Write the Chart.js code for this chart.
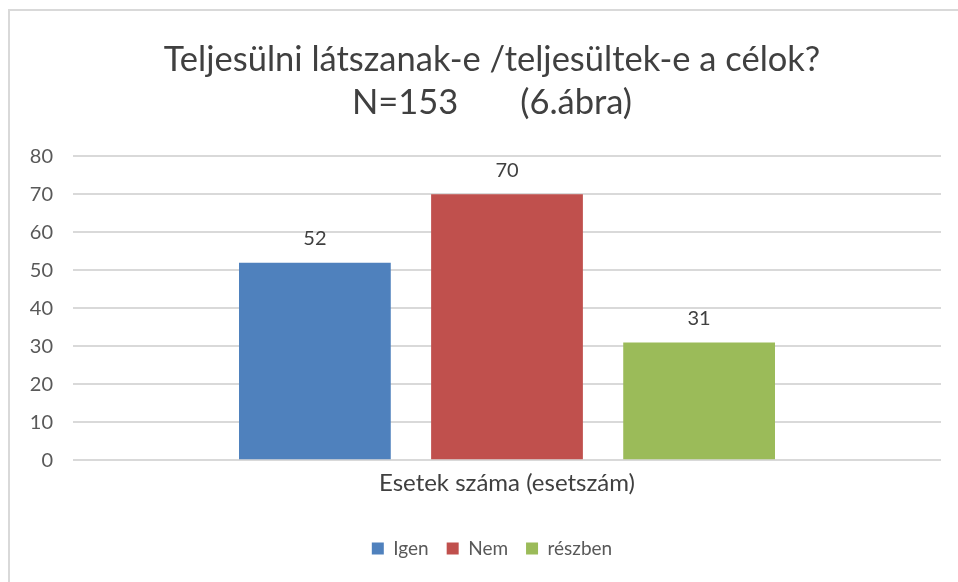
<!DOCTYPE html>
<html>
<head>
<meta charset="utf-8">
<script src="https://cdn.jsdelivr.net/npm/chart.js@4"></script>
<style>
  html, body { margin: 0; padding: 0; background: #fff; overflow: hidden; }
  #wrap { position: relative; width: 958px; height: 582px; overflow: hidden; }
  #frame { position: absolute; left: 8px; top: 9px; right: 0; bottom: 0; border-left: 2px solid #d9d9d9; border-top: 2px solid #d9d9d9; }
  canvas { position: absolute; left: 0; top: 0; }
</style>
</head>
<body>
<div id="wrap">
  <div id="frame"></div>
  <canvas id="chart" width="970" height="582"></canvas>
</div>
<script>
const categories = ['Esetek száma (esetszám)'];
const seriesNames = ['Igen', 'Nem', 'részben'];
const seriesValues = [[52], [70], [31]];
const seriesColors = ['#4F81BD', '#C0504D', '#9BBB59'];
const titleLines = ['Teljesülni látszanak-e /teljesültek-e a célok?', 'N=153       (6.ábra)'];

const FONT = 'Lato, "Open Sans", sans-serif';

// value labels above each bar
const valueLabels = {
    id: 'valueLabels',
    afterDatasetsDraw(chart) {
        const ctx = chart.ctx;
        ctx.save();
        ctx.font = '20px ' + FONT;
        ctx.fillStyle = '#404040';
        ctx.textAlign = 'center';
        ctx.textBaseline = 'middle';
        chart.data.datasets.forEach((ds, i) => {
            chart.getDatasetMeta(i).data.forEach((bar, j) => {
                ctx.fillText(ds.data[j], bar.x, bar.y - 24);
            });
        });
        ctx.restore();
    }
};

new Chart(document.getElementById('chart'), {
    type: 'bar',
    data: {
        labels: categories,
        datasets: seriesNames.map((name, i) => ({
            label: name,
            data: seriesValues[i],
            backgroundColor: seriesColors[i],
            borderWidth: 0,
            categoryPercentage: 0.664,
            barPercentage: 0.79
        }))
    },
    options: {
        responsive: false,
        animation: false,
        layout: { padding: { left: 20, right: 6, top: 10, bottom: 14 } },
        plugins: {
            title: {
                display: true,
                text: titleLines,
                color: '#404040',
                font: { family: FONT, size: 34.5, weight: 'normal', lineHeight: 1.25 },
                padding: { top: 28, bottom: 32 }
            },
            legend: {
                position: 'bottom',
                labels: {
                    boxWidth: 12,
                    boxHeight: 12,
                    padding: 18,
                    color: '#595959',
                    font: { family: FONT, size: 19 }
                }
            },
            tooltip: { enabled: false }
        },
        scales: {
            x: {
                grid: { display: false, drawTicks: false },
                border: { display: false },
                ticks: { color: '#404040', font: { family: FONT, size: 24 }, padding: 9 },
                afterFit: s => { s.height += 14; }
            },
            y: {
                min: 0,
                max: 80,
                ticks: { stepSize: 10, color: '#595959', font: { family: FONT, size: 20 }, padding: 20 },
                grid: { color: '#d9d9d9', lineWidth: 2, drawTicks: false },
                border: { display: false },
                afterFit: s => { s.width = 53; }
            },
            // empty right margin of the plot, keeps title and legend centred like the original
            yRight: {
                position: 'right',
                ticks: { display: false },
                grid: { display: false, drawTicks: false },
                border: { display: false },
                afterFit: s => { s.width = 23; }
            }
        }
    },
    plugins: [valueLabels]
});
</script>
</body>
</html>
